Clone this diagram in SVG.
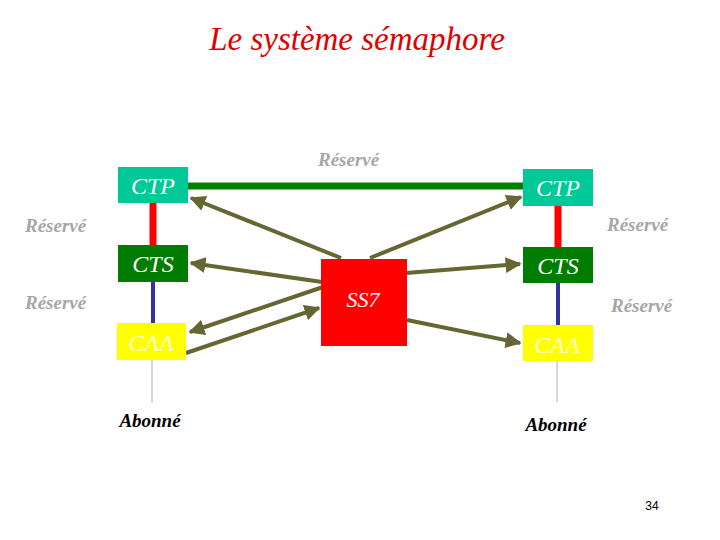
<svg xmlns="http://www.w3.org/2000/svg" width="720" height="540" viewBox="0 0 720 540">
<style>
.arr{stroke:#666633;stroke-width:4;fill:none;marker-end:url(#ah)}
</style>
<defs>
<marker id="ah" viewBox="0 0 10 10" refX="9" refY="5" markerWidth="4" markerHeight="4" orient="auto" markerUnits="strokeWidth">
<path d="M0,0 L10,5 L0,10 z" fill="#666633"/>
</marker>
</defs>
<rect width="720" height="540" fill="#ffffff"/>
<text x="357" y="50" font-family="Liberation Serif" font-style="italic" font-size="33" fill="#e00000" text-anchor="middle">Le système sémaphore</text>
<g id="links">
<line x1="188" y1="186" x2="523" y2="186" stroke="#008000" stroke-width="7"/>
<line x1="153" y1="203" x2="153" y2="245" stroke="#ff0000" stroke-width="7"/>
<line x1="153" y1="282" x2="153" y2="323" stroke="#3333a0" stroke-width="4"/>
<line x1="558" y1="206" x2="558" y2="247" stroke="#ff0000" stroke-width="7"/>
<line x1="558" y1="283" x2="558" y2="325" stroke="#3333a0" stroke-width="4"/>
<line x1="152" y1="360" x2="152" y2="403" stroke="#b0b0b0" stroke-width="1"/>
<line x1="557" y1="361" x2="557" y2="402" stroke="#b0b0b0" stroke-width="1"/>
</g>
<g id="connectors">
<line class="arr" x1="341" y1="258" x2="191" y2="198"/>
<line class="arr" x1="370" y1="258" x2="521" y2="197"/>
<line class="arr" x1="322" y1="282" x2="191" y2="263"/>
<line class="arr" x1="323" y1="287" x2="190" y2="332"/>
<line class="arr" x1="186" y1="353" x2="319" y2="308"/>
<line class="arr" x1="406" y1="273" x2="520" y2="264"/>
<line class="arr" x1="407" y1="320" x2="520" y2="343"/>
</g>
<g id="ctp-left"><rect x="118" y="167" width="70" height="36" fill="#00c896"/><text x="153" y="194" font-family="Liberation Serif" font-style="italic" font-size="24" fill="#ffffff" text-anchor="middle">CTP</text></g>
<g id="ctp-right"><rect x="523" y="169" width="70" height="37" fill="#00c896"/><text x="558" y="196" font-family="Liberation Serif" font-style="italic" font-size="24" fill="#ffffff" text-anchor="middle">CTP</text></g>
<g id="cts-left"><rect x="118" y="245" width="70" height="37" fill="#007c00"/><text x="153" y="272" font-family="Liberation Serif" font-style="italic" font-size="24" fill="#ffffff" text-anchor="middle">CTS</text></g>
<g id="cts-right"><rect x="523" y="247" width="70" height="36" fill="#007c00"/><text x="558" y="274" font-family="Liberation Serif" font-style="italic" font-size="24" fill="#ffffff" text-anchor="middle">CTS</text></g>
<g id="ss7"><rect x="321" y="259" width="86" height="87" fill="#ff0000"/><text x="363" y="307" font-family="Liberation Serif" font-style="italic" font-size="22" fill="#ffffff" text-anchor="middle">SS7</text></g>
<g id="caa-left"><rect x="117" y="323" width="69" height="37" fill="#ffff00"/><text x="151" y="351" font-family="Liberation Serif" font-style="italic" font-size="24" fill="#ffffc8" text-anchor="middle">CAA</text></g>
<g id="caa-right"><rect x="523" y="325" width="70" height="36" fill="#ffff00"/><text x="557" y="353" font-family="Liberation Serif" font-style="italic" font-size="24" fill="#ffffc8" text-anchor="middle">CAA</text></g>
<g id="labels">
<text x="318" y="166" font-family="Liberation Serif" font-style="italic" font-weight="bold" font-size="19" fill="#a6a6a6">Réservé</text>
<text x="25" y="232" font-family="Liberation Serif" font-style="italic" font-weight="bold" font-size="19" fill="#a6a6a6">Réservé</text>
<text x="607" y="231" font-family="Liberation Serif" font-style="italic" font-weight="bold" font-size="19" fill="#a6a6a6">Réservé</text>
<text x="25" y="309" font-family="Liberation Serif" font-style="italic" font-weight="bold" font-size="19" fill="#a6a6a6">Réservé</text>
<text x="611" y="312" font-family="Liberation Serif" font-style="italic" font-weight="bold" font-size="19" fill="#a6a6a6">Réservé</text>
<text x="150" y="427" font-family="Liberation Serif" font-style="italic" font-weight="bold" font-size="19" fill="#000000" text-anchor="middle">Abonné</text>
<text x="556" y="431" font-family="Liberation Serif" font-style="italic" font-weight="bold" font-size="19" fill="#000000" text-anchor="middle">Abonné</text>
</g>
<text x="652" y="510" font-family="Liberation Sans" font-size="12" fill="#000000" text-anchor="middle">34</text>
</svg>
